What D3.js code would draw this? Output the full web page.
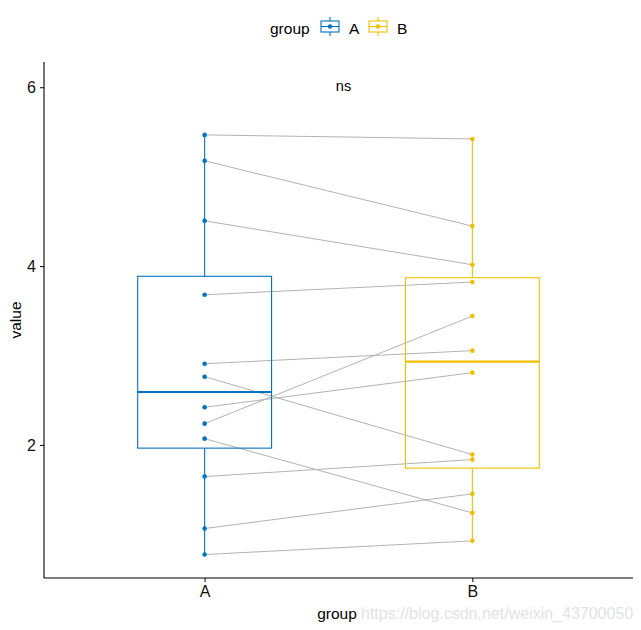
<!DOCTYPE html>
<html>
<head>
<meta charset="utf-8">
<script src="https://cdn.jsdelivr.net/npm/d3@7"></script>
<style>
  body { margin: 0; background: #fff; }
  svg { display: block; font-family: "Liberation Sans", Arial, sans-serif; }
</style>
</head>
<body>
<svg id="chart" width="641" height="630"></svg>
<script>
const groups = ["A", "B"];
const valuesA = [5.467, 5.177, 4.506, 3.679, 2.908, 2.763, 2.421, 2.238, 2.070, 1.646, 1.065, 0.774];
const valuesB = [5.422, 4.447, 4.015, 3.821, 3.054, 1.892, 2.808, 3.441, 1.240, 1.836, 1.453, 0.927];
const yTicks = [2, 4, 6];
const colors = ["#0073C2", "#EFC000"];
const pLabel = "ns";
const pLabelY = 6.02;
const watermark = "https://blog.csdn.net/weixin_43700050";

(function () {
const svg = d3.select("#chart");
const mLeft = 44, mRight = 633, mTop = 62, mBottom = 578;

const allVals = valuesA.concat(valuesB, [pLabelY]);
const ext = d3.extent(allVals);
const pad = (ext[1] - ext[0]) * 0.05;
const y = d3.scaleLinear().domain([ext[0] - pad, ext[1] + pad]).range([mBottom, mTop]);
const x = d3.scalePoint().domain(groups).range([mLeft, mRight]).padding(0.6);
const halfW = x.step() * 0.25;

const series = [valuesA, valuesB];

// paired lines
const pairs = d3.zip(valuesA, valuesB);
svg.append("g").selectAll("line").data(pairs).join("line")
  .attr("x1", x("A")).attr("x2", x("B"))
  .attr("y1", d => y(d[0])).attr("y2", d => y(d[1]))
  .attr("stroke", "#b3b3b3").attr("stroke-width", 1);

// boxes
groups.forEach((g, i) => {
  const vals = series[i].slice().sort(d3.ascending);
  const q1 = d3.quantile(vals, 0.25), med = d3.quantile(vals, 0.5), q3 = d3.quantile(vals, 0.75);
  const iqr = q3 - q1;
  const lo = d3.min(vals.filter(v => v >= q1 - 1.5 * iqr));
  const hi = d3.max(vals.filter(v => v <= q3 + 1.5 * iqr));
  const cx = x(g), c = colors[i];
  const gg = svg.append("g");
  gg.append("line").attr("x1", cx).attr("x2", cx).attr("y1", y(q3)).attr("y2", y(hi)).attr("stroke", c).attr("stroke-width", 1.1);
  gg.append("line").attr("x1", cx).attr("x2", cx).attr("y1", y(q1)).attr("y2", y(lo)).attr("stroke", c).attr("stroke-width", 1.1);
  gg.append("rect").attr("x", cx - halfW).attr("width", 2 * halfW)
    .attr("y", y(q3)).attr("height", y(q1) - y(q3))
    .attr("fill", "none").attr("stroke", c).attr("stroke-width", 1.1);
  gg.append("line").attr("x1", cx - halfW).attr("x2", cx + halfW).attr("y1", y(med)).attr("y2", y(med))
    .attr("stroke", c).attr("stroke-width", 2.2);
  gg.selectAll("circle").data(series[i]).join("circle")
    .attr("cx", cx).attr("cy", d => y(d)).attr("r", 2.3).attr("fill", c);
});

// axes
const yAxis = svg.append("g").attr("transform", `translate(${mLeft},0)`)
  .call(d3.axisLeft(y).tickValues(yTicks).tickSize(4).tickPadding(4).tickFormat(d3.format("d")));
yAxis.select(".domain").attr("d", `M0,${mTop}V${mBottom}`).attr("stroke", "#000").attr("stroke-width", 1.1);
yAxis.selectAll("text").attr("font-size", "16px").attr("fill", "#111").attr("font-family", "Liberation Sans, Arial, sans-serif");

const xAxis = svg.append("g").attr("transform", `translate(0,${mBottom})`)
  .call(d3.axisBottom(x).tickSize(4).tickPadding(4));
xAxis.select(".domain").attr("d", `M${mLeft},0H${mRight}`).attr("stroke", "#000").attr("stroke-width", 1.1);
xAxis.selectAll("text").attr("font-size", "16px").attr("fill", "#111").attr("font-family", "Liberation Sans, Arial, sans-serif");

// axis titles
svg.append("text").attr("transform", `translate(21,${(mTop + mBottom) / 2}) rotate(-90)`)
  .attr("text-anchor", "middle").attr("font-size", "15.5px").text("value");
svg.append("text").attr("x", 337).attr("y", 619)
  .attr("text-anchor", "middle").attr("font-size", "15.5px").text("group");

// watermark
svg.append("text").attr("x", 361).attr("y", 619).attr("text-anchor", "start")
  .attr("font-size", "16px").attr("fill", "#e3e3e3").text(watermark);

// p label
svg.append("text").attr("x", (x("A") + x("B")) / 2 + 5).attr("y", y(pLabelY)).attr("dy", "0.35em")
  .attr("text-anchor", "middle").attr("font-size", "14.5px").text(pLabel);

// legend
const leg = svg.append("g");
leg.append("text").attr("x", 270).attr("y", 34).attr("font-size", "15.5px").text("group");
const keyX = [321, 369];
groups.forEach((g, i) => {
  const kx = keyX[i], c = colors[i];
  const k = leg.append("g");
  k.append("line").attr("x1", kx + 9).attr("x2", kx + 9).attr("y1", 17).attr("y2", 36).attr("stroke", c).attr("stroke-width", 1.1);
  k.append("rect").attr("x", kx).attr("y", 21).attr("width", 18).attr("height", 11).attr("fill", "#fff").attr("stroke", c).attr("stroke-width", 1.1);
  k.append("line").attr("x1", kx).attr("x2", kx + 18).attr("y1", 26.5).attr("y2", 26.5).attr("stroke", c).attr("stroke-width", 1.1);
  k.append("circle").attr("cx", kx + 9).attr("cy", 26.5).attr("r", 2.2).attr("fill", c);
  k.append("text").attr("x", kx + 28).attr("y", 34).attr("font-size", "15.5px").text(g);
});
})();
</script>
</body>
</html>
